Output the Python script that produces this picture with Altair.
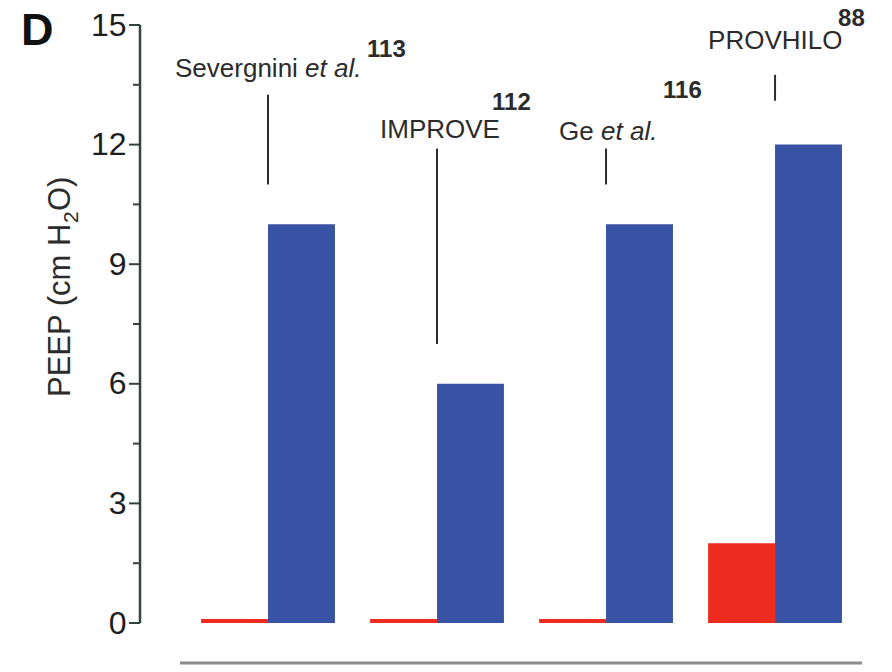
import altair as alt
import pandas as pd

# ---- data ----
groups = [1, 2, 3, 4]
control_peep = [0, 0, 0, 2]
intervention_peep = [10, 6, 10, 12]
study_names = ["Severgnini", "IMPROVE", "Ge", "PROVHILO"]
study_italic = ["et al.", "", "et al.", ""]
study_refs = ["113", "112", "116", "88"]
leader_top = [13.25, 11.9, 11.9, 13.75]
leader_bottom = [11.0, 7.0, 11.0, 13.1]
label_y = [13.69, 12.16, 12.11, 14.40]
ref_y = [14.20, 12.87, 13.17, 14.97]
y_ticks = [0, 3, 6, 9, 12, 15]
minor_ticks = [1.5, 4.5, 7.5, 10.5, 13.5]

# ---- style ----
RED = "#ee2b1f"
BLUE = "#3953a4"
AXIS = "#33443f"
TXT = "#2b2b2b"
FONT = "Liberation Sans"
HALF = 0.396  # bar width in group units
W, H = 740, 598
XDOM = [0.2426, 4.621]

name_dx = [-93, -57, -47, -67]
italic_dx = [37, None, -5, None]
ref_dx = [99, 55, 57, 63]

bars_df = pd.DataFrame({
    "group": groups * 2,
    "arm": ["control"] * 4 + ["intervention"] * 4,
    "peep": control_peep + intervention_peep,
})

xs = alt.Scale(domain=XDOM, nice=False, zero=False)
ys = alt.Scale(domain=[0, 15], nice=False)
yaxis = alt.Axis(values=y_ticks, title=None)

bars = alt.Chart(bars_df).transform_calculate(
    x0=f"datum.arm == 'control' ? datum.group - {HALF} : datum.group",
    x1=f"datum.arm == 'control' ? datum.group : datum.group + {HALF}",
).mark_bar().encode(
    x=alt.X("x0:Q", scale=xs, axis=None),
    x2="x1:Q",
    y=alt.Y("peep:Q", scale=ys, axis=yaxis),
    y2=alt.datum(0),
    color=alt.Color("arm:N", scale=alt.Scale(domain=["control", "intervention"], range=[RED, BLUE]), legend=None),
)

zero_lines = alt.Chart(bars_df).transform_filter(
    "datum.arm == 'control' && datum.peep == 0"
).transform_calculate(
    x0=f"datum.group - {HALF}", x1="datum.group"
).mark_rule(color=RED, strokeWidth=4, yOffset=-2).encode(
    x=alt.X("x0:Q", scale=xs, axis=None), x2="x1:Q", y=alt.Y("peep:Q", scale=ys, axis=yaxis)
)

# axis line and ticks drawn explicitly so they stay crisp and dark
axis_line = alt.Chart(pd.DataFrame({"lo": [y_ticks[0]], "hi": [y_ticks[-1]]})).mark_rule(
    color=AXIS, strokeWidth=2.5
).encode(x=alt.value(0), y=alt.Y("lo:Q", scale=ys, axis=yaxis), y2="hi:Q")

major = alt.Chart(pd.DataFrame({"v": y_ticks})).mark_rule(
    color=AXIS, strokeWidth=2
).encode(x=alt.value(-11), x2=alt.value(0), y=alt.Y("v:Q", scale=ys, axis=yaxis))

minor = alt.Chart(pd.DataFrame({"v": minor_ticks})).mark_rule(
    color=AXIS, strokeWidth=2
).encode(x=alt.value(-7), x2=alt.value(0), y=alt.Y("v:Q", scale=ys, axis=yaxis))

leaders_df = pd.DataFrame({"group": groups, "top": leader_top, "bottom": leader_bottom})
leaders = alt.Chart(leaders_df).mark_rule(color=TXT, strokeWidth=2).encode(
    x=alt.X("group:Q", scale=xs, axis=None), y=alt.Y("top:Q", scale=ys, axis=yaxis), y2="bottom:Q"
)

layers = [bars, zero_lines, axis_line, major, minor, leaders]

for i in range(4):
    row = pd.DataFrame({"group": [groups[i]], "ly": [label_y[i]], "ry": [ref_y[i]],
                        "name": [study_names[i]], "ital": [study_italic[i]], "ref": [study_refs[i]]})
    base = alt.Chart(row)
    layers.append(base.mark_text(align="left", baseline="alphabetic", font=FONT, fontSize=26,
                                 color=TXT, dx=name_dx[i]).encode(
        x=alt.X("group:Q", scale=xs, axis=None), y=alt.Y("ly:Q", scale=ys, axis=yaxis), text="name:N"))
    if study_italic[i]:
        layers.append(base.mark_text(align="left", baseline="alphabetic", font=FONT, fontSize=26,
                                     fontStyle="italic", color=TXT, dx=italic_dx[i]).encode(
            x=alt.X("group:Q", scale=xs, axis=None), y=alt.Y("ly:Q", scale=ys, axis=yaxis), text="ital:N"))
    layers.append(base.mark_text(align="left", baseline="alphabetic", font=FONT, fontSize=24,
                                 fontWeight="bold", color=TXT, dx=ref_dx[i]).encode(
        x=alt.X("group:Q", scale=xs, axis=None), y=alt.Y("ry:Q", scale=ys, axis=yaxis), text="ref:N"))

# bottom separator line
dummy = alt.Chart(pd.DataFrame({"a": [0]}))
layers.append(dummy.mark_rule(color="#8c8c8c", strokeWidth=3).encode(
    x=alt.value(40), x2=alt.value(722), y=alt.value(638)))

# y-axis title with subscript
layers.append(dummy.mark_text(text="PEEP (cm H", angle=270, align="left", baseline="alphabetic",
                              font=FONT, fontSize=31, color=TXT).encode(
    x=alt.value(-70), y=alt.value(372)))
layers.append(dummy.mark_text(text="2", angle=270, align="left", baseline="alphabetic",
                              font=FONT, fontSize=21, color=TXT).encode(
    x=alt.value(-62), y=alt.value(198)))
layers.append(dummy.mark_text(text="O)", angle=270, align="left", baseline="alphabetic",
                              font=FONT, fontSize=31, color=TXT).encode(
    x=alt.value(-70), y=alt.value(186)))

# panel letter
layers.append(dummy.mark_text(text="D", align="left", baseline="alphabetic", font=FONT,
                              fontSize=45, fontWeight="bold", color="#111").encode(
    x=alt.value(-119), y=alt.value(20)))

chart = alt.layer(*layers).properties(
    width=W, height=H,
    background="white",
    padding={"left": 140, "top": 25, "right": 12, "bottom": 49},
    autosize=alt.AutoSizeParams(type="none"),
).configure_view(stroke=None).configure_axis(
    domain=False, ticks=False, grid=False,
    labelFontSize=32, labelFont=FONT, labelColor="#1e1e1e", labelPadding=14,
)

chart.save("out.html", embed_options={"renderer": "svg", "actions": False})
